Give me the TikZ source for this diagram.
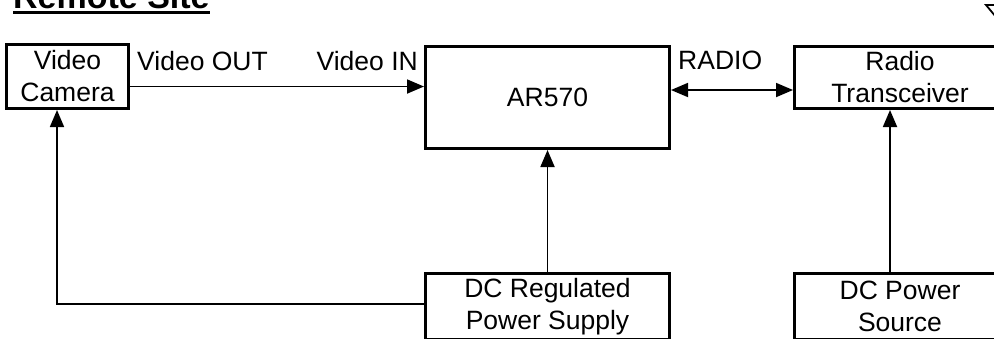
\documentclass[tikz,border=0pt]{standalone}
\usepackage{fontspec}
\setmainfont{Liberation Sans}
\usetikzlibrary{arrows.meta}
\begin{document}
\begin{tikzpicture}[x=1pt,y=-1pt,
  box/.style={draw, line width=3pt, inner sep=0pt, align=center, font=\fontsize{26.5}{32}\selectfont},
  lbl/.style={inner sep=0pt, font=\fontsize{26.5}{32}\selectfont},
  tip/.tip={Triangle[length=17pt,width=14pt]},
  conn/.style={line width=1.8pt, -tip},
  conn2/.style={line width=1.8pt, tip-tip}]
\useasboundingbox (0,0) rectangle (994,338);
\clip (0,0) rectangle (994,338);
% title
\node[inner sep=0pt, anchor=base west, font=\fontsize{34}{40}\selectfont\bfseries] (title) at (13,8.5) {Remote Site};
\draw[line width=3pt] ([yshift=-4pt]title.base west) -- ([yshift=-4pt]title.base east);
% boxes
\node[box, minimum width=122pt, minimum height=64pt] (cam) at (67.5,76.5) {Video\\Camera};
\node[box, minimum width=244pt, minimum height=102pt] (ar) at (547.5,97.5) {AR570};
\node[box, minimum width=211pt, minimum height=62pt] (rt) at (900,77.5) {Radio\\Transceiver};
\node[box, minimum width=244pt, minimum height=65.5pt] (dcr) at (547.5,306.25) {DC Regulated\\Power Supply};
\node[box, minimum width=211pt, minimum height=65.5pt] (dcp) at (900,306.25) {DC Power\\Source};
% labels
\node[lbl, anchor=base west] (vout) at (137,70) {Video OUT};
\node[lbl, anchor=base east] (vin) at (418,70) {Video IN};
\node[lbl, anchor=base west] (radio) at (678,69) {RADIO};
% connectors
\coordinate (c1) at ([yshift=-10pt]cam.east);
\draw[conn] (c1) -- (c1 -| ar.west);
\coordinate (c2) at ([yshift=7.5pt]ar.east);
\draw[conn2] (c2) -- (c2 -| rt.west);
\draw[conn] (dcr.north) -- (ar.south);
\coordinate (c3) at ([xshift=-10.5pt]cam.south);
\coordinate (c4) at ([yshift=2.25pt]dcr.west);
\draw[conn] (c4) -| (c3);
\coordinate (c5) at ([xshift=-10pt]dcp.north);
\coordinate (c6) at ([xshift=-10pt]rt.south);
\draw[conn] (c5) -- (c6);
% antenna (partly visible)
\coordinate (ant) at (986,5);
\draw[line width=1.8pt] (1000,5) -- (ant) -- (996,17);
\end{tikzpicture}
\end{document}
